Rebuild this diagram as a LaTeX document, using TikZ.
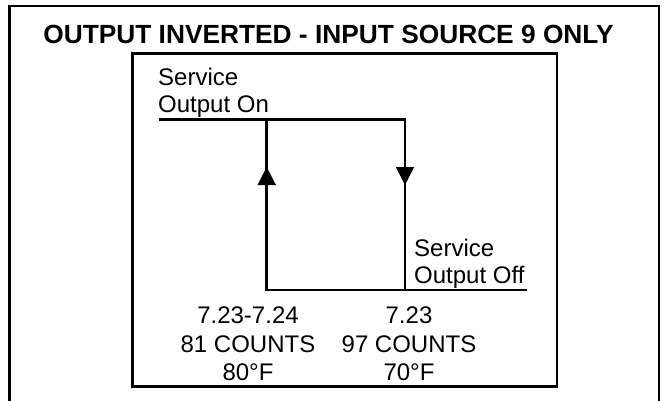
\documentclass[tikz,border=0pt]{standalone}
\usepackage{fontspec}
\setmainfont{Liberation Sans}
\begin{document}
\begin{tikzpicture}[x=1pt,y=-1pt,
  frame/.style={line width=2.8pt},
  wire/.style={line width=2.6pt},
  tip/.style={fill=black,draw=none},
  lbl/.style={inner sep=0pt,font=\fontsize{24}{27}\selectfont},
  ttl/.style={inner sep=0pt,font=\fontsize{26.3}{30}\selectfont\bfseries}]
\useasboundingbox (0,0) rectangle (664,400);
% outer frame (open at bottom)
\draw[frame] (9.5,402) -- (9.5,6) -- (659,6) -- (659,402);
\node[ttl,anchor=base] (title) at (328.5,43.5) {OUTPUT INVERTED - INPUT SOURCE 9 ONLY};
% inner frame
\draw[frame] (132.5,53.5) rectangle (557,386.5);
% graph coordinates
\coordinate (onL) at (159,119.5);
\coordinate (A) at (266.7,119.5);
\coordinate (B) at (405,119.5);
\coordinate (C) at (266.7,290);
\coordinate (D) at (405,290);
\coordinate (offR) at (527,290);
\draw[wire] (onL) -- (B) -- (D);
\draw[wire] (A) -- (C) -- (offR);
% arrowheads
\fill[tip] (266.7,167) -- (257.5,185) -- (275.9,185) -- cycle;
\fill[tip] (405,185) -- (395.8,167) -- (414.2,167) -- cycle;
% labels
\node[lbl,anchor=base west] (on1) at (158,85) {Service};
\node[lbl,anchor=base west] (on2) at (158,112) {Output On};
\node[lbl,anchor=base west] (off1) at (414,256) {Service};
\node[lbl,anchor=base west] (off2) at (414,283) {Output Off};
\node[lbl,anchor=base] (a1) at (248,323.3) {7.23-7.24};
\node[lbl,anchor=base] (a2) at (248,352.5) {81 COUNTS};
\node[lbl,anchor=base] (a3) at (248,380.7) {80°F};
\node[lbl,anchor=base] (b1) at (409,323.3) {7.23};
\node[lbl,anchor=base] (b2) at (409,352.5) {97 COUNTS};
\node[lbl,anchor=base] (b3) at (409,380.7) {70°F};
\end{tikzpicture}
\end{document}
